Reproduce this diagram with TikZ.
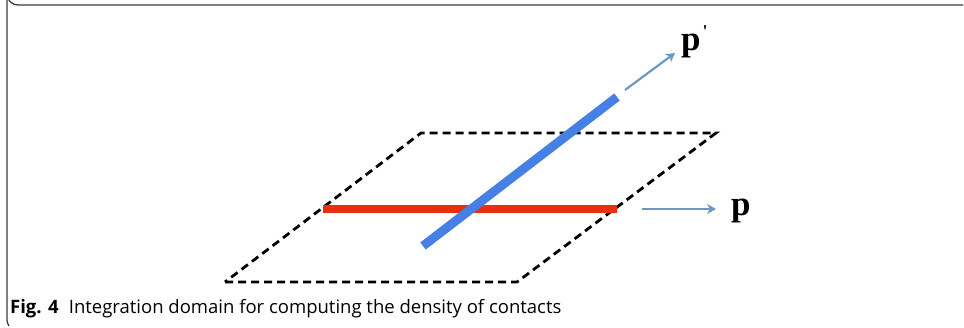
\documentclass[tikz,border=0pt]{standalone}
\usepackage{fontspec}
\setmainfont{Liberation Serif}
\newfontfamily\capfont{Open Sans}
\usetikzlibrary{arrows.meta}
\definecolor{lineblue}{RGB}{70,128,228}
\definecolor{linered}{RGB}{232,48,12}
\definecolor{arrowblue}{RGB}{110,152,196}
\definecolor{framegray}{RGB}{60,60,60}
\begin{document}
\begin{tikzpicture}[x=1pt,y=-1pt,
  dashedge/.style={black,line width=2.8pt,dash pattern=on 8pt off 5pt},
  vecarrow/.style={arrowblue,line width=2.2pt,-{Stealth[length=9pt,width=10pt,inset=3pt]}},
  veclabel/.style={font=\fontsize{35}{40}\selectfont\bfseries,inner sep=0pt}]
\useasboundingbox (0,0) rectangle (964,328);
% frame
\draw[framegray,line width=1.3pt] (963,5) -- (18,5) arc[start angle=90,end angle=180,radius=11] -- (7,320) to[out=-90,in=120] (9,326);
% plane
\coordinate (A) at (225,282);
\coordinate (B) at (517,282);
\coordinate (C) at (716,133);
\coordinate (D) at (421,133);
\draw[dashedge] (A) -- (B) -- (C) -- (D) -- cycle;
% red segment
\coordinate (r1) at (323,209);
\coordinate (r2) at (617,209);
\draw[linered,line width=8pt] (r1) -- (r2);
% blue segment
\coordinate (b1) at (423,246);
\coordinate (b2) at (617,97);
\draw[lineblue,line width=9pt] (b1) -- (b2);
% arrows
\coordinate (pa1) at (642,209);
\coordinate (pa2) at (716,209);
\draw[vecarrow] (pa1) -- (pa2);
\node[veclabel,anchor=base west] (p) at (731,216) {p};
\coordinate (qa1) at (625,90);
\coordinate (qa2) at (675,53);
\draw[vecarrow] (qa1) -- (qa2);
\node[veclabel,anchor=base west] (pp) at (681,51) {p\hspace{2pt}\raisebox{0.38em}{\fontsize{18}{20}\selectfont\textquotesingle}};
% caption
\node[anchor=base west,inner sep=0pt,font=\capfont\fontsize{18.5}{22}\selectfont] (cap) at (10,314) {\textbf{Fig. 4}\hspace{0.55em}Integration domain for computing the density of contacts};
\end{tikzpicture}
\end{document}
